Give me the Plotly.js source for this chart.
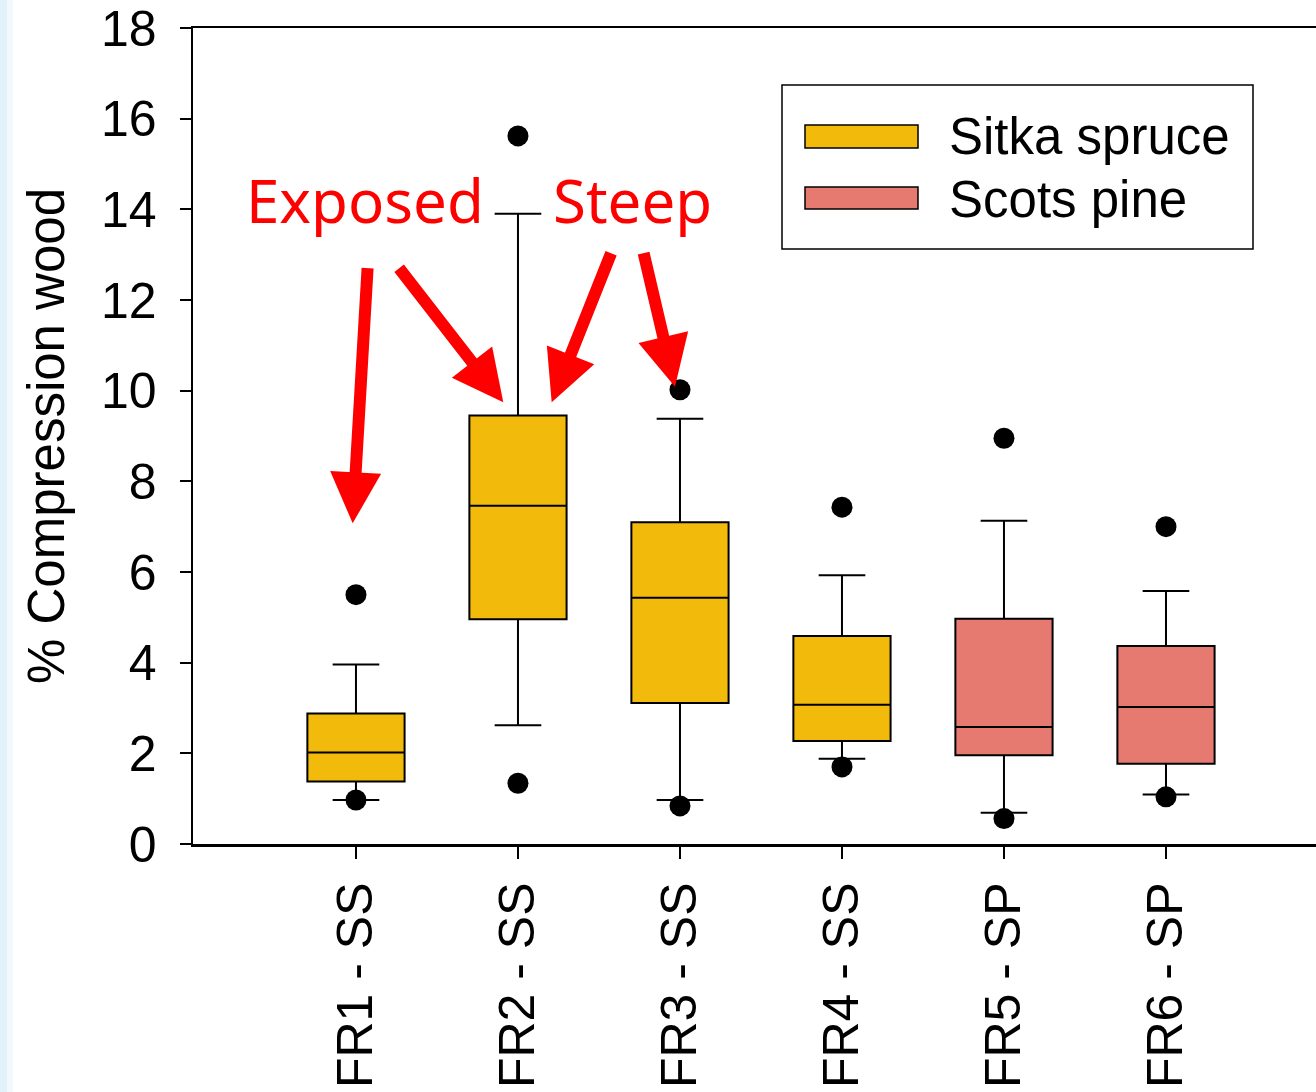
<!DOCTYPE html>
<html>
<head>
<meta charset="utf-8">
<script src="https://cdn.plot.ly/plotly-3.0.1.min.js"></script>
<style>
html,body{margin:0;padding:0;background:#fff;}
#chart{width:1316px;height:1092px;}
</style>
</head>
<body>
<div id="chart"></div>
<script>
// ---- data ----
var categories = ["FR1 - SS", "FR2 - SS", "FR3 - SS", "FR4 - SS", "FR5 - SP", "FR6 - SP"];
var species = ["Sitka spruce", "Sitka spruce", "Sitka spruce", "Sitka spruce", "Scots pine", "Scots pine"];
var lowerWhisker = [0.97, 2.62, 0.97, 1.88, 0.69, 1.09];
var q1Values     = [1.38, 4.96, 3.11, 2.27, 1.96, 1.77];
var medianValues = [2.02, 7.46, 5.43, 3.07, 2.58, 3.02];
var q3Values     = [2.88, 9.45, 7.10, 4.59, 4.97, 4.37];
var upperWhisker = [3.96, 13.90, 9.38, 5.93, 7.13, 5.58];
var outlierHigh  = [5.50, 15.62, 10.02, 7.43, 8.95, 7.00];
var outlierLow   = [0.97, 1.34, 0.84, 1.70, 0.56, 1.04];
var legendNames  = ["Sitka spruce", "Scots pine"];
var yTicks = [0, 2, 4, 6, 8, 10, 12, 14, 16, 18];
var annotationLabels = ["Exposed", "Steep"];

var colors = {"Sitka spruce": "#F2BB0B", "Scots pine": "#E67A70"};

function pick(arr, sp) {
  var out = [];
  for (var i = 0; i < categories.length; i++) if (species[i] === sp) out.push(arr[i]);
  return out;
}

var traces = legendNames.map(function (sp) {
  return {
    type: "box",
    name: sp,
    x: pick(categories, sp),
    q1: pick(q1Values, sp),
    median: pick(medianValues, sp),
    q3: pick(q3Values, sp),
    lowerfence: pick(lowerWhisker, sp),
    upperfence: pick(upperWhisker, sp),
    fillcolor: colors[sp],
    line: {color: "#000", width: 2},
    width: 0.6,
    whiskerwidth: 0.48,
    boxpoints: false,
    hoverinfo: "skip",
    showlegend: false
  };
});

var outX = [], outY = [];
for (var i = 0; i < categories.length; i++) {
  outX.push(categories[i]); outY.push(outlierHigh[i]);
  outX.push(categories[i]); outY.push(outlierLow[i]);
}
traces.push({
  type: "scatter", mode: "markers", x: outX, y: outY,
  marker: {color: "#000", size: 21}, showlegend: false, hoverinfo: "skip"
});

// helpers: pixel -> paper coords for decorations
var L = 193, R = 1316, T = 28, B = 844;
function px(v) { return (v - L) / (R - L); }
function py(v) { return (B - v) / (B - T); }

var shapes = [
  {type: "rect", xref: "paper", yref: "paper", x0: px(0), x1: px(7), y0: py(1092), y1: py(0),
   line: {width: 0}, fillcolor: "#E3F2FA", layer: "below"},
  {type: "rect", xref: "paper", yref: "paper", x0: px(7), x1: px(13), y0: py(1092), y1: py(0),
   line: {width: 0}, fillcolor: "#F1F9FD", layer: "below"},
  {type: "rect", xref: "paper", yref: "paper", x0: px(782), x1: px(1253), y0: py(249), y1: py(85),
   line: {color: "#000", width: 1.5}, fillcolor: "#fff", layer: "above"},
  {type: "rect", xref: "paper", yref: "paper", x0: px(805), x1: px(918), y0: py(148), y1: py(125),
   line: {color: "#000", width: 1.5}, fillcolor: colors["Sitka spruce"], layer: "above"},
  {type: "rect", xref: "paper", yref: "paper", x0: px(805), x1: px(918), y0: py(209), y1: py(187),
   line: {color: "#000", width: 1.5}, fillcolor: colors["Scots pine"], layer: "above"}
];

var annotations = [
  {xref: "paper", yref: "paper", x: px(947), y: py(137), text: legendNames[0], showarrow: false,
   xanchor: "left", yanchor: "middle", font: {family: "Liberation Sans, Arial", size: 51, color: "#000"}},
  {xref: "paper", yref: "paper", x: px(947), y: py(199), text: legendNames[1], showarrow: false,
   xanchor: "left", yanchor: "middle", font: {family: "Liberation Sans, Arial", size: 51, color: "#000"}},
  {xref: "paper", yref: "paper", x: px(365), y: py(200), text: annotationLabels[0], showarrow: false,
   xanchor: "center", yanchor: "middle", font: {family: "Noto Sans", size: 60, color: "#FF0000"}},
  {xref: "paper", yref: "paper", x: px(632), y: py(200), text: annotationLabels[1], showarrow: false,
   xanchor: "center", yanchor: "middle", font: {family: "Noto Sans", size: 60, color: "#FF0000"}}
];

// arrows (tail -> tip) in pixels
var arrows = [
  [367.7, 266.7, 352.7, 523.3],
  [398.0, 266.7, 503.3, 402.3],
  [611.7, 251.7, 551.7, 402.3],
  [643.3, 251.7, 675.0, 386.7]
];
function dx(v) { return (v - 356) / 162; }
function dy(v) { return (B - v) / ((B - T) / 18); }
arrows.forEach(function (a) {
  annotations.push({
    xref: "x", yref: "y", axref: "x", ayref: "y",
    x: dx(a[2]), y: dy(a[3]), ax: dx(a[0]), ay: dy(a[1]),
    text: "", showarrow: true, arrowhead: 2, arrowsize: 0.85, arrowwidth: 12,
    arrowcolor: "#FF0000", standoff: 0, startstandoff: 0
  });
});

var layout = {
  width: 1316, height: 1092,
  margin: {l: L, r: 1316 - R, t: T, b: 1092 - B, pad: 0},
  paper_bgcolor: "#fff", plot_bgcolor: "rgba(0,0,0,0)",
  boxmode: "overlay",
  showlegend: false,
  xaxis: {
    type: "category", categoryorder: "array", categoryarray: categories,
    range: [-1.006, 5.926], fixedrange: true,
    showline: true, linecolor: "#000", linewidth: 2.5, mirror: true,
    showgrid: false, zeroline: false,
    ticks: "outside", ticklen: 12, tickwidth: 2, tickcolor: "#000",
    tickangle: -90, ticklabelstandoff: 4,
    tickfont: {family: "Liberation Sans, Arial", size: 50, color: "#000"}
  },
  yaxis: {
    range: [0, 18], fixedrange: true,
    tickvals: yTicks, ticktext: yTicks.map(String),
    showline: true, linecolor: "#000", linewidth: 2.5, mirror: false,
    showgrid: false, zeroline: false,
    ticks: "outside", ticklen: 11, tickwidth: 2, tickcolor: "#000",
    ticklabelstandoff: 13,
    tickfont: {family: "Liberation Sans, Arial", size: 50, color: "#000"},
    title: {text: "% Compression wood", standoff: 20,
            font: {family: "Liberation Sans, Arial", size: 51, color: "#000"}}
  },
  shapes: shapes,
  annotations: annotations
};

Plotly.newPlot("chart", traces, layout, {staticPlot: true, displayModeBar: false});
</script>
</body>
</html>
